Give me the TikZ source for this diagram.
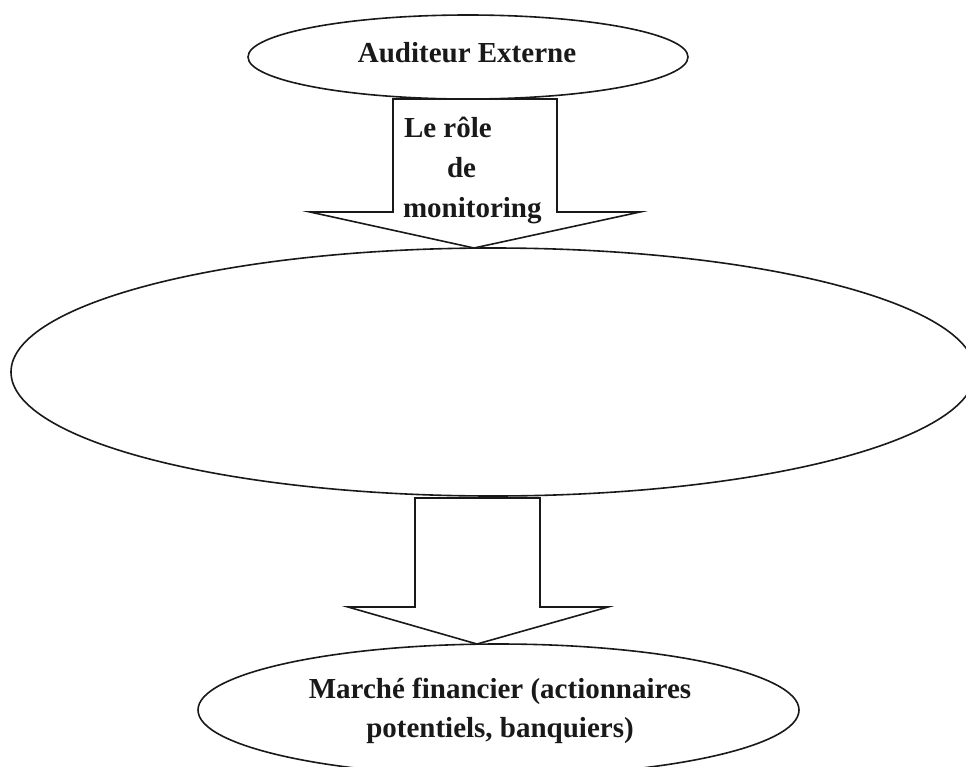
\documentclass[tikz,border=0pt]{standalone}
\usepackage{fontspec}
\setmainfont{Liberation Serif}
\usetikzlibrary{shapes.geometric}
\tikzset{
  oval/.style={draw=black!90, line width=1.6pt, ellipse, inner sep=0pt, outer sep=0pt},
  blockarrow/.style={draw=black!90, line width=1.6pt, line join=miter},
  lbl/.style={inner sep=0pt, outer sep=0pt, font=\fontsize{29}{39}\selectfont\bfseries, text=black!90}
}
\begin{document}
\begin{tikzpicture}[x=1pt,y=-1pt]
\useasboundingbox (0,0) rectangle (966,766);
\clip (0,0) rectangle (966,766);
% ellipses
\node[oval, minimum width=440pt, minimum height=84pt] (audit) at (468,57) {};
\node[oval, minimum width=964pt, minimum height=248pt] (entreprise) at (493,372) {};
\node[oval, minimum width=601pt, minimum height=132pt] (marche) at (498.5,710) {};
% block arrows
\draw[blockarrow] (393,99) -- (557,99) -- (557,212) -- (640,212) -- (474,248)
  -- (310,212) -- (393,212) -- cycle;
\draw[blockarrow] (415,498) -- (540,498) -- (540,607) -- (608,607) -- (477,644)
  -- (348,607) -- (415,607) -- cycle;
% texts
\node[lbl, anchor=base] (t1) at (467,62) {Auditeur Externe};
\node[lbl, anchor=base west] (t2) at (404,137) {Le rôle};
\node[lbl, anchor=base west] (t3) at (447,177) {de};
\node[lbl, anchor=base west] (t4) at (403,217) {monitoring};
\node[lbl, anchor=base] (t5) at (500,698) {Marché financier (actionnaires};
\node[lbl, anchor=base] (t6) at (500,737) {potentiels, banquiers)};
\end{tikzpicture}
\end{document}
